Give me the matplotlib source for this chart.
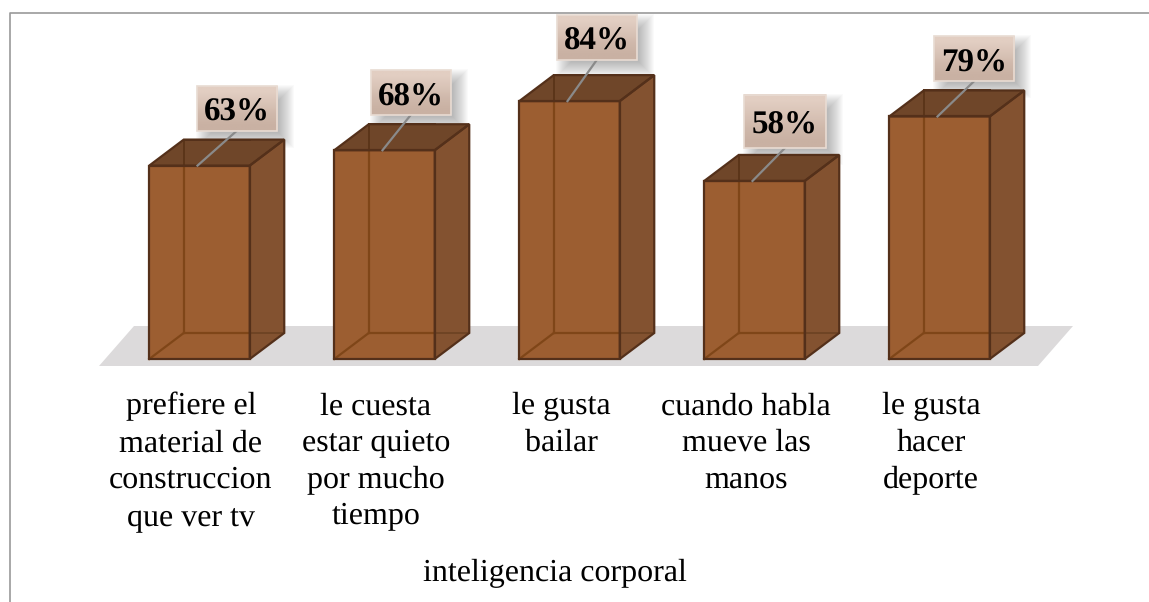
import numpy as np
import matplotlib
matplotlib.use("Agg")
import matplotlib.pyplot as plt
from matplotlib.patches import Polygon, Rectangle

categories = [
    "prefiere el\nmaterial de\nconstruccion\nque ver tv",
    "le cuesta\nestar quieto\npor mucho\ntiempo",
    "le gusta\nbailar",
    "cuando habla\nmueve las\nmanos",
    "le gusta\nhacer\ndeporte",
]
values = [63, 68, 84, 58, 79]
axis_title = "inteligencia corporal"

W, H = 1149, 602
STEP = 185.0      # px between bars
PCT = 3.07        # px per percent
X0, Y0 = 199.5, 359.0   # first bar centre, baseline

# label boxes, in pixels from the top centre of each bar
BOX_DX = [37.5, 26, 27.5, 30.5, 34.5]
BOX_DY = [57.5, 57.5, 64, 59.5, 57.7]
BOX_W = [80, 80, 80, 82, 80]
BOX_H = [45, 45, 45, 53, 45]

PX = 1 / STEP
PY = 1 / PCT
BAR_W = 100.5 * PX
DX = 34.5 * PX
DY = 26 * PY

plt.rcParams['font.family'] = ['Liberation Serif', 'DejaVu Serif']
plt.rcParams['text.hinting'] = 'none'
plt.rcParams['text.hinting_factor'] = 1

fig = plt.figure(figsize=(W / 100, H / 100), dpi=100, facecolor='white')
ax = fig.add_axes([0, 0, 1, 1])
xlim = (-X0 / STEP, (W - X0) / STEP)
ylim = ((Y0 - H) / PCT, Y0 / PCT)
ax.axis('off')

# chart border, top and left only
ax.plot([xlim[0] + 10 * PX, xlim[0] + 10 * PX, xlim[1]],
        [ylim[0], ylim[1] - 13 * PY, ylim[1] - 13 * PY],
        color='#9a9a9a', lw=1.2, zorder=1)

# floor
n = len(values)
fl = [(-100.5 * PX, -7 * PY), ((n - 1) + 98.5 * PX, -7 * PY),
      ((n - 1) + 133.5 * PX, 33 * PY), (-65.5 * PX, 33 * PY)]
ax.add_patch(Polygon(fl, closed=True, fc='#dcdadb', ec='none', zorder=2))

EDGE = '#54301a'
INNER = '#7f4618'
for i, v in enumerate(values):
    l, r = i - BAR_W / 2, i + BAR_W / 2
    # front
    ax.add_patch(Polygon([(l, 0), (r, 0), (r, v), (l, v)],
                         fc='#9c5e31', ec='none', zorder=4))
    # back edges seen through the front
    ax.plot([l + DX, l + DX], [DY, v], color=INNER, lw=1.6, zorder=4.1)
    ax.plot([l + DX, r], [DY, DY], color=INNER, lw=1.6, zorder=4.1)
    ax.plot([l, l + DX], [0, DY], color=INNER, lw=1.6, zorder=4.1)
    # side and top
    ax.add_patch(Polygon([(r, 0), (r + DX, DY), (r + DX, v + DY), (r, v)],
                         fc='#835230', ec='none', zorder=4))
    ax.plot([r, r + DX], [DY, DY], color='#6f4424', lw=1.4, zorder=4.2)
    ax.add_patch(Polygon([(l, v), (r, v), (r + DX, v + DY), (l + DX, v + DY)],
                         fc='#6f4629', ec='none', zorder=4))
    ax.plot([l + DX, l + DX], [v, v + DY], color='#5b3519', lw=1.4, zorder=4.2)
    ax.plot([l + DX, r], [v + DY, v + DY], color=EDGE, lw=1.4, zorder=4.2)
    # outlines
    ax.add_patch(Polygon([(l, 0), (r, 0), (r, v), (l, v)], fill=False, ec=EDGE, lw=1.6, zorder=5))
    ax.add_patch(Polygon([(r, 0), (r + DX, DY), (r + DX, v + DY), (r, v)], fill=False, ec=EDGE, lw=1.6, zorder=5))
    ax.add_patch(Polygon([(l, v), (r, v), (r + DX, v + DY), (l + DX, v + DY)], fill=False, ec=EDGE, lw=1.6, zorder=5))

    # label box
    cx = i + BOX_DX[i] * PX
    cy = v + BOX_DY[i] * PY
    bw, bh = BOX_W[i] * PX, BOX_H[i] * PY
    # soft shadow, stacked see-through rectangles
    for k in range(-9, 10):
        ax.add_patch(Rectangle((cx - bw / 2 + (8 - k) * PX, cy - bh / 2 - (8 + k) * PY),
                               bw + 2 * k * PX, bh + 2 * k * PY,
                               fc='#606060', ec='none', alpha=0.03, zorder=3.5))
    # leader line
    ax.plot([cx, i - 2 * PX], [cy - bh / 2, v], color='#8a8a8a', lw=1.6, zorder=6)
    grad = np.array([[0.0], [0.35], [0.75], [1.0]])
    c0 = np.array([0xe2, 0xce, 0xc2]) / 255
    c1 = np.array([0xc9, 0xb1, 0xa3]) / 255
    img = (c0 + (c1 - c0) * grad)[:, np.newaxis, :].reshape(4, 1, 3)
    ax.imshow(img, extent=(cx - bw / 2, cx + bw / 2, cy - bh / 2, cy + bh / 2),
              aspect='auto', origin='upper', interpolation='bilinear', zorder=6)
    ax.add_patch(Rectangle((cx - bw / 2, cy - bh / 2), bw, bh, fill=False,
                           ec='#e9dcd3', lw=1.2, zorder=6.5))
    ax.text(cx, cy - 4.5 * PY, f"{v}%", ha='center', va='center', fontsize=23.5,
            fontweight='bold', color='black', zorder=7)

    # category label
    ax.text(i - 8.5 * PX, -(392 - Y0) * PY, categories[i], ha='center', va='top',
            fontsize=22.8, linespacing=1.35, color='black', zorder=7)

ax.text((555 - X0) * PX, -(573 - Y0) * PY, axis_title, ha='center', va='center',
        fontsize=22.8, color='black', zorder=7)

ax.set_xlim(xlim)
ax.set_ylim(ylim)
fig.savefig('out.png', dpi=100, facecolor='white')
